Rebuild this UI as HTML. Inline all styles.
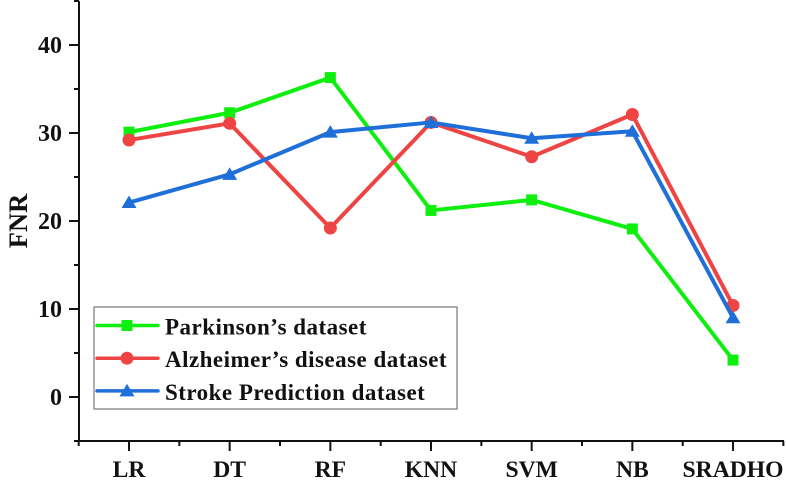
<!DOCTYPE html>
<html lang="en">
<head>
<meta charset="utf-8">
<title>FNR chart</title>
<style>
html,body{margin:0;padding:0;background:#fff}
svg{display:block;filter:blur(.35px)}
text{font-family:"Liberation Serif",serif;font-weight:bold;fill:#111}
</style>
</head>
<body>
<svg id="chart" width="786" height="484" viewBox="0 0 786 484" xmlns="http://www.w3.org/2000/svg"></svg>
<script>
const categories = ["LR", "DT", "RF", "KNN", "SVM", "NB", "SRADHO"];
const parkinsonValues = [30.1, 32.3, 36.3, 21.2, 22.4, 19.1, 4.2];
const alzheimerValues = [29.2, 31.1, 19.2, 31.2, 27.3, 32.1, 10.4];
const strokeValues = [22.1, 25.3, 30.1, 31.2, 29.4, 30.2, 9.0];
const yMajorTicks = [0, 10, 20, 30, 40];
const yMinorTicks = [-5, 5, 15, 25, 35, 45];
const seriesNames = ["Parkinson’s dataset", "Alzheimer’s disease dataset", "Stroke Prediction dataset"];

const svg = document.getElementById('chart');
const NS = 'http://www.w3.org/2000/svg';
const xPos = i => 129 + i * 100.67;
const yPos = v => 397 - v * 8.8;
const AXIS = '#111';

function make(tag, attrs, parent) {
  const el = document.createElementNS(NS, tag);
  for (const k in attrs) el.setAttribute(k, attrs[k]);
  (parent || svg).appendChild(el);
  return el;
}
function marker(kind, x, y, color, parent) {
  if (kind === 'square') {
    return make('rect', {x: x - 5.5, y: y - 5.5, width: 11, height: 11, fill: color}, parent);
  }
  if (kind === 'circle') {
    return make('circle', {cx: x, cy: y, r: 6.5, fill: color}, parent);
  }
  return make('polygon', {points: `${x},${y - 7} ${x + 7.5},${y + 5.5} ${x - 7.5},${y + 5.5}`, fill: color}, parent);
}

/* axes */
const yAxis = make('line', {x1: 79, y1: 1, x2: 79, y2: 442, stroke: AXIS, 'stroke-width': 2});


const xAxis = make('line', {x1: 78, y1: 441, x2: 784, y2: 441, stroke: AXIS, 'stroke-width': 2});



yMajorTicks.forEach(v => {
  const tick = make('line', {x1: 69, y1: yPos(v), x2: 79, y2: yPos(v), stroke: AXIS, 'stroke-width': 2});
  
  
  const label = make('text', {x: 62, y: yPos(v) + 8, 'text-anchor': 'end', 'font-size': 24});
  
  
  label.textContent = v;
});
yMinorTicks.forEach(v => {
  const tick = make('line', {x1: 74, y1: yPos(v), x2: 79, y2: yPos(v), stroke: AXIS, 'stroke-width': 2});
  
  
});
categories.forEach((c, i) => {
  const tick = make('line', {x1: xPos(i), y1: 441, x2: xPos(i), y2: 451, stroke: AXIS, 'stroke-width': 2});
  
  
  const label = make('text', {x: xPos(i), y: 477, 'text-anchor': 'middle', 'font-size': 23.6});
  
  
  label.textContent = c;
});
for (let i = -0.5; i < categories.length; i++) {
  const tick = make('line', {x1: xPos(i), y1: 441, x2: xPos(i), y2: 446, stroke: AXIS, 'stroke-width': 2});
  
  
}

const yTitle = make('text', {transform: 'translate(27,221) rotate(-90)', 'text-anchor': 'middle', 'font-size': 26.5});


yTitle.textContent = 'FNR';

/* series */
const seriesList = [
  {vals: parkinsonValues, color: '#0fef0f', kind: 'square', name: 'series-parkinson'},
  {vals: alzheimerValues, color: '#ee4444', kind: 'circle', name: 'series-alzheimer'},
  {vals: strokeValues, color: '#1f6fd8', kind: 'triangle', name: 'series-stroke'}
];
seriesList.forEach(s => {
  const g = make('g', {});
  
  
  make('polyline', {
    points: s.vals.map((v, i) => xPos(i) + ',' + yPos(v)).join(' '),
    fill: 'none', stroke: s.color, 'stroke-width': 4, 'stroke-linejoin': 'round'
  }, g);
  s.vals.forEach((v, i) => marker(s.kind, xPos(i), yPos(v), s.color, g));
});

/* legend */
const legend = make('g', {});


make('rect', {x: 94, y: 307, width: 363, height: 102, fill: '#fff', stroke: '#777', 'stroke-width': 1.2}, legend);
const legendStyles = [
  {color: '#0fef0f', kind: 'square'},
  {color: '#ee4444', kind: 'circle'},
  {color: '#1f6fd8', kind: 'triangle'}
];
seriesNames.forEach((name, i) => {
  const rowY = 325.5 + i * 32.7;
  const row = make('g', {}, legend);
  
  
  make('line', {x1: 97, y1: rowY, x2: 158, y2: rowY, stroke: legendStyles[i].color, 'stroke-width': 3.5, 'stroke-linecap': 'round'}, row);
  marker(legendStyles[i].kind, 127, rowY, legendStyles[i].color, row);
  const t = make('text', {x: 165, y: rowY + 9, 'font-size': 23, 'letter-spacing': 0.48}, row);
  t.textContent = name;
});
</script>
</body>
</html>
